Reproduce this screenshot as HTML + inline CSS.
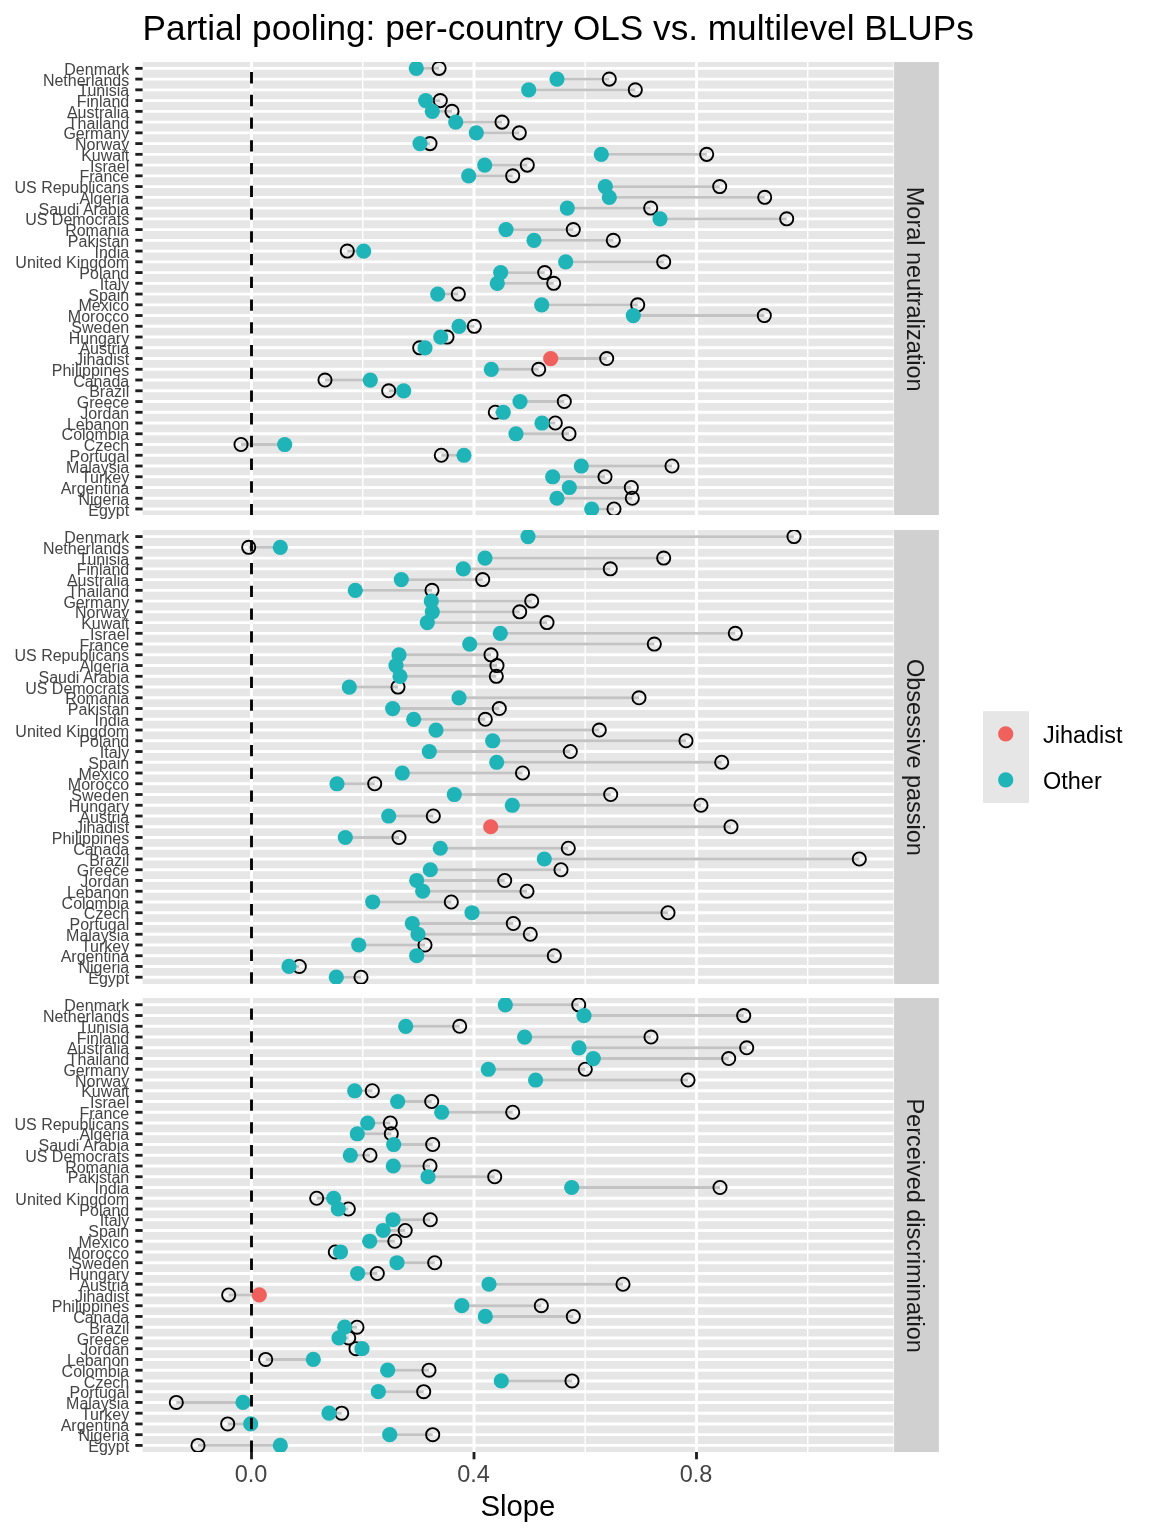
<!DOCTYPE html>
<html lang="en"><head><meta charset="utf-8"><title>Partial pooling</title>
<style>html,body{margin:0;padding:0;background:#fff}svg{display:block}text{font-family:"Liberation Sans",Arial,Helvetica,sans-serif}</style></head><body>
<svg width="1152" height="1536" viewBox="0 0 1152 1536">
<rect width="1152" height="1536" fill="#fff"/>
<text x="142.6" y="40.0" font-size="35.2" fill="#000">Partial pooling: per-country OLS vs. multilevel BLUPs</text>
<g>
<rect x="142.6" y="62" width="750.9" height="453" fill="#E6E6E6"/>
<line x1="362.7" x2="362.7" y1="62" y2="515" stroke="#fff" stroke-width="1.42"/>
<line x1="585.2" x2="585.2" y1="62" y2="515" stroke="#fff" stroke-width="1.42"/>
<line x1="807.7" x2="807.7" y1="62" y2="515" stroke="#fff" stroke-width="1.42"/>
<line x1="251.5" x2="251.5" y1="62" y2="515" stroke="#fff" stroke-width="2.85"/>
<line x1="474.0" x2="474.0" y1="62" y2="515" stroke="#fff" stroke-width="2.85"/>
<line x1="696.5" x2="696.5" y1="62" y2="515" stroke="#fff" stroke-width="2.85"/>
<line x1="142.6" x2="893.5" y1="68.35" y2="68.35" stroke="#fff" stroke-width="2.85"/>
<line x1="142.6" x2="893.5" y1="79.10" y2="79.10" stroke="#fff" stroke-width="2.85"/>
<line x1="142.6" x2="893.5" y1="89.84" y2="89.84" stroke="#fff" stroke-width="2.85"/>
<line x1="142.6" x2="893.5" y1="100.59" y2="100.59" stroke="#fff" stroke-width="2.85"/>
<line x1="142.6" x2="893.5" y1="111.34" y2="111.34" stroke="#fff" stroke-width="2.85"/>
<line x1="142.6" x2="893.5" y1="122.09" y2="122.09" stroke="#fff" stroke-width="2.85"/>
<line x1="142.6" x2="893.5" y1="132.83" y2="132.83" stroke="#fff" stroke-width="2.85"/>
<line x1="142.6" x2="893.5" y1="143.58" y2="143.58" stroke="#fff" stroke-width="2.85"/>
<line x1="142.6" x2="893.5" y1="154.33" y2="154.33" stroke="#fff" stroke-width="2.85"/>
<line x1="142.6" x2="893.5" y1="165.08" y2="165.08" stroke="#fff" stroke-width="2.85"/>
<line x1="142.6" x2="893.5" y1="175.82" y2="175.82" stroke="#fff" stroke-width="2.85"/>
<line x1="142.6" x2="893.5" y1="186.57" y2="186.57" stroke="#fff" stroke-width="2.85"/>
<line x1="142.6" x2="893.5" y1="197.32" y2="197.32" stroke="#fff" stroke-width="2.85"/>
<line x1="142.6" x2="893.5" y1="208.07" y2="208.07" stroke="#fff" stroke-width="2.85"/>
<line x1="142.6" x2="893.5" y1="218.82" y2="218.82" stroke="#fff" stroke-width="2.85"/>
<line x1="142.6" x2="893.5" y1="229.56" y2="229.56" stroke="#fff" stroke-width="2.85"/>
<line x1="142.6" x2="893.5" y1="240.31" y2="240.31" stroke="#fff" stroke-width="2.85"/>
<line x1="142.6" x2="893.5" y1="251.06" y2="251.06" stroke="#fff" stroke-width="2.85"/>
<line x1="142.6" x2="893.5" y1="261.81" y2="261.81" stroke="#fff" stroke-width="2.85"/>
<line x1="142.6" x2="893.5" y1="272.55" y2="272.55" stroke="#fff" stroke-width="2.85"/>
<line x1="142.6" x2="893.5" y1="283.30" y2="283.30" stroke="#fff" stroke-width="2.85"/>
<line x1="142.6" x2="893.5" y1="294.05" y2="294.05" stroke="#fff" stroke-width="2.85"/>
<line x1="142.6" x2="893.5" y1="304.80" y2="304.80" stroke="#fff" stroke-width="2.85"/>
<line x1="142.6" x2="893.5" y1="315.54" y2="315.54" stroke="#fff" stroke-width="2.85"/>
<line x1="142.6" x2="893.5" y1="326.29" y2="326.29" stroke="#fff" stroke-width="2.85"/>
<line x1="142.6" x2="893.5" y1="337.04" y2="337.04" stroke="#fff" stroke-width="2.85"/>
<line x1="142.6" x2="893.5" y1="347.79" y2="347.79" stroke="#fff" stroke-width="2.85"/>
<line x1="142.6" x2="893.5" y1="358.53" y2="358.53" stroke="#fff" stroke-width="2.85"/>
<line x1="142.6" x2="893.5" y1="369.28" y2="369.28" stroke="#fff" stroke-width="2.85"/>
<line x1="142.6" x2="893.5" y1="380.03" y2="380.03" stroke="#fff" stroke-width="2.85"/>
<line x1="142.6" x2="893.5" y1="390.78" y2="390.78" stroke="#fff" stroke-width="2.85"/>
<line x1="142.6" x2="893.5" y1="401.53" y2="401.53" stroke="#fff" stroke-width="2.85"/>
<line x1="142.6" x2="893.5" y1="412.27" y2="412.27" stroke="#fff" stroke-width="2.85"/>
<line x1="142.6" x2="893.5" y1="423.02" y2="423.02" stroke="#fff" stroke-width="2.85"/>
<line x1="142.6" x2="893.5" y1="433.77" y2="433.77" stroke="#fff" stroke-width="2.85"/>
<line x1="142.6" x2="893.5" y1="444.52" y2="444.52" stroke="#fff" stroke-width="2.85"/>
<line x1="142.6" x2="893.5" y1="455.26" y2="455.26" stroke="#fff" stroke-width="2.85"/>
<line x1="142.6" x2="893.5" y1="466.01" y2="466.01" stroke="#fff" stroke-width="2.85"/>
<line x1="142.6" x2="893.5" y1="476.76" y2="476.76" stroke="#fff" stroke-width="2.85"/>
<line x1="142.6" x2="893.5" y1="487.51" y2="487.51" stroke="#fff" stroke-width="2.85"/>
<line x1="142.6" x2="893.5" y1="498.25" y2="498.25" stroke="#fff" stroke-width="2.85"/>
<line x1="142.6" x2="893.5" y1="509.00" y2="509.00" stroke="#fff" stroke-width="2.85"/>
<clipPath id="cp0"><rect x="142.6" y="62" width="750.9" height="453"/></clipPath>
<g clip-path="url(#cp0)">
<line x1="416.3" x2="439.1" y1="68.35" y2="68.35" stroke="#C3C3C3" stroke-width="2.85"/>
<line x1="557" x2="609.3" y1="79.10" y2="79.10" stroke="#C3C3C3" stroke-width="2.85"/>
<line x1="528.7" x2="635.3" y1="89.84" y2="89.84" stroke="#C3C3C3" stroke-width="2.85"/>
<line x1="425.7" x2="440.3" y1="100.59" y2="100.59" stroke="#C3C3C3" stroke-width="2.85"/>
<line x1="432.3" x2="452" y1="111.34" y2="111.34" stroke="#C3C3C3" stroke-width="2.85"/>
<line x1="455.7" x2="502" y1="122.09" y2="122.09" stroke="#C3C3C3" stroke-width="2.85"/>
<line x1="476.3" x2="519.3" y1="132.83" y2="132.83" stroke="#C3C3C3" stroke-width="2.85"/>
<line x1="420" x2="430" y1="143.58" y2="143.58" stroke="#C3C3C3" stroke-width="2.85"/>
<line x1="601.3" x2="706.7" y1="154.33" y2="154.33" stroke="#C3C3C3" stroke-width="2.85"/>
<line x1="484.7" x2="527.3" y1="165.08" y2="165.08" stroke="#C3C3C3" stroke-width="2.85"/>
<line x1="468.7" x2="512.7" y1="175.82" y2="175.82" stroke="#C3C3C3" stroke-width="2.85"/>
<line x1="605.3" x2="719.7" y1="186.57" y2="186.57" stroke="#C3C3C3" stroke-width="2.85"/>
<line x1="609.3" x2="764.7" y1="197.32" y2="197.32" stroke="#C3C3C3" stroke-width="2.85"/>
<line x1="567.3" x2="650.7" y1="208.07" y2="208.07" stroke="#C3C3C3" stroke-width="2.85"/>
<line x1="660" x2="786.7" y1="218.82" y2="218.82" stroke="#C3C3C3" stroke-width="2.85"/>
<line x1="506" x2="573.3" y1="229.56" y2="229.56" stroke="#C3C3C3" stroke-width="2.85"/>
<line x1="534" x2="613.3" y1="240.31" y2="240.31" stroke="#C3C3C3" stroke-width="2.85"/>
<line x1="363.7" x2="347.3" y1="251.06" y2="251.06" stroke="#C3C3C3" stroke-width="2.85"/>
<line x1="565.7" x2="663.7" y1="261.81" y2="261.81" stroke="#C3C3C3" stroke-width="2.85"/>
<line x1="500.7" x2="544.7" y1="272.55" y2="272.55" stroke="#C3C3C3" stroke-width="2.85"/>
<line x1="497.3" x2="553.7" y1="283.30" y2="283.30" stroke="#C3C3C3" stroke-width="2.85"/>
<line x1="437.7" x2="458.3" y1="294.05" y2="294.05" stroke="#C3C3C3" stroke-width="2.85"/>
<line x1="541.7" x2="637.7" y1="304.80" y2="304.80" stroke="#C3C3C3" stroke-width="2.85"/>
<line x1="633.3" x2="764.3" y1="315.54" y2="315.54" stroke="#C3C3C3" stroke-width="2.85"/>
<line x1="459" x2="474.3" y1="326.29" y2="326.29" stroke="#C3C3C3" stroke-width="2.85"/>
<line x1="440.7" x2="447" y1="337.04" y2="337.04" stroke="#C3C3C3" stroke-width="2.85"/>
<line x1="425" x2="419.7" y1="347.79" y2="347.79" stroke="#C3C3C3" stroke-width="2.85"/>
<line x1="550.7" x2="606.7" y1="358.53" y2="358.53" stroke="#C3C3C3" stroke-width="2.85"/>
<line x1="491.3" x2="538.7" y1="369.28" y2="369.28" stroke="#C3C3C3" stroke-width="2.85"/>
<line x1="370.3" x2="325" y1="380.03" y2="380.03" stroke="#C3C3C3" stroke-width="2.85"/>
<line x1="403.7" x2="388.7" y1="390.78" y2="390.78" stroke="#C3C3C3" stroke-width="2.85"/>
<line x1="520" x2="564.3" y1="401.53" y2="401.53" stroke="#C3C3C3" stroke-width="2.85"/>
<line x1="503.3" x2="495.3" y1="412.27" y2="412.27" stroke="#C3C3C3" stroke-width="2.85"/>
<line x1="542" x2="555.3" y1="423.02" y2="423.02" stroke="#C3C3C3" stroke-width="2.85"/>
<line x1="516" x2="569" y1="433.77" y2="433.77" stroke="#C3C3C3" stroke-width="2.85"/>
<line x1="284.7" x2="241" y1="444.52" y2="444.52" stroke="#C3C3C3" stroke-width="2.85"/>
<line x1="464" x2="441.3" y1="455.26" y2="455.26" stroke="#C3C3C3" stroke-width="2.85"/>
<line x1="581.3" x2="672" y1="466.01" y2="466.01" stroke="#C3C3C3" stroke-width="2.85"/>
<line x1="552.7" x2="605" y1="476.76" y2="476.76" stroke="#C3C3C3" stroke-width="2.85"/>
<line x1="569.3" x2="631.3" y1="487.51" y2="487.51" stroke="#C3C3C3" stroke-width="2.85"/>
<line x1="557" x2="632.3" y1="498.25" y2="498.25" stroke="#C3C3C3" stroke-width="2.85"/>
<line x1="591.7" x2="614" y1="509.00" y2="509.00" stroke="#C3C3C3" stroke-width="2.85"/>
<circle cx="439.1" cy="68.35" r="6.6" fill="none" stroke="#000" stroke-width="1.9"/>
<circle cx="609.3" cy="79.10" r="6.6" fill="none" stroke="#000" stroke-width="1.9"/>
<circle cx="635.3" cy="89.84" r="6.6" fill="none" stroke="#000" stroke-width="1.9"/>
<circle cx="440.3" cy="100.59" r="6.6" fill="none" stroke="#000" stroke-width="1.9"/>
<circle cx="452" cy="111.34" r="6.6" fill="none" stroke="#000" stroke-width="1.9"/>
<circle cx="502" cy="122.09" r="6.6" fill="none" stroke="#000" stroke-width="1.9"/>
<circle cx="519.3" cy="132.83" r="6.6" fill="none" stroke="#000" stroke-width="1.9"/>
<circle cx="430" cy="143.58" r="6.6" fill="none" stroke="#000" stroke-width="1.9"/>
<circle cx="706.7" cy="154.33" r="6.6" fill="none" stroke="#000" stroke-width="1.9"/>
<circle cx="527.3" cy="165.08" r="6.6" fill="none" stroke="#000" stroke-width="1.9"/>
<circle cx="512.7" cy="175.82" r="6.6" fill="none" stroke="#000" stroke-width="1.9"/>
<circle cx="719.7" cy="186.57" r="6.6" fill="none" stroke="#000" stroke-width="1.9"/>
<circle cx="764.7" cy="197.32" r="6.6" fill="none" stroke="#000" stroke-width="1.9"/>
<circle cx="650.7" cy="208.07" r="6.6" fill="none" stroke="#000" stroke-width="1.9"/>
<circle cx="786.7" cy="218.82" r="6.6" fill="none" stroke="#000" stroke-width="1.9"/>
<circle cx="573.3" cy="229.56" r="6.6" fill="none" stroke="#000" stroke-width="1.9"/>
<circle cx="613.3" cy="240.31" r="6.6" fill="none" stroke="#000" stroke-width="1.9"/>
<circle cx="347.3" cy="251.06" r="6.6" fill="none" stroke="#000" stroke-width="1.9"/>
<circle cx="663.7" cy="261.81" r="6.6" fill="none" stroke="#000" stroke-width="1.9"/>
<circle cx="544.7" cy="272.55" r="6.6" fill="none" stroke="#000" stroke-width="1.9"/>
<circle cx="553.7" cy="283.30" r="6.6" fill="none" stroke="#000" stroke-width="1.9"/>
<circle cx="458.3" cy="294.05" r="6.6" fill="none" stroke="#000" stroke-width="1.9"/>
<circle cx="637.7" cy="304.80" r="6.6" fill="none" stroke="#000" stroke-width="1.9"/>
<circle cx="764.3" cy="315.54" r="6.6" fill="none" stroke="#000" stroke-width="1.9"/>
<circle cx="474.3" cy="326.29" r="6.6" fill="none" stroke="#000" stroke-width="1.9"/>
<circle cx="447" cy="337.04" r="6.6" fill="none" stroke="#000" stroke-width="1.9"/>
<circle cx="419.7" cy="347.79" r="6.6" fill="none" stroke="#000" stroke-width="1.9"/>
<circle cx="606.7" cy="358.53" r="6.6" fill="none" stroke="#000" stroke-width="1.9"/>
<circle cx="538.7" cy="369.28" r="6.6" fill="none" stroke="#000" stroke-width="1.9"/>
<circle cx="325" cy="380.03" r="6.6" fill="none" stroke="#000" stroke-width="1.9"/>
<circle cx="388.7" cy="390.78" r="6.6" fill="none" stroke="#000" stroke-width="1.9"/>
<circle cx="564.3" cy="401.53" r="6.6" fill="none" stroke="#000" stroke-width="1.9"/>
<circle cx="495.3" cy="412.27" r="6.6" fill="none" stroke="#000" stroke-width="1.9"/>
<circle cx="555.3" cy="423.02" r="6.6" fill="none" stroke="#000" stroke-width="1.9"/>
<circle cx="569" cy="433.77" r="6.6" fill="none" stroke="#000" stroke-width="1.9"/>
<circle cx="241" cy="444.52" r="6.6" fill="none" stroke="#000" stroke-width="1.9"/>
<circle cx="441.3" cy="455.26" r="6.6" fill="none" stroke="#000" stroke-width="1.9"/>
<circle cx="672" cy="466.01" r="6.6" fill="none" stroke="#000" stroke-width="1.9"/>
<circle cx="605" cy="476.76" r="6.6" fill="none" stroke="#000" stroke-width="1.9"/>
<circle cx="631.3" cy="487.51" r="6.6" fill="none" stroke="#000" stroke-width="1.9"/>
<circle cx="632.3" cy="498.25" r="6.6" fill="none" stroke="#000" stroke-width="1.9"/>
<circle cx="614" cy="509.00" r="6.6" fill="none" stroke="#000" stroke-width="1.9"/>
<circle cx="416.3" cy="68.35" r="7.6" fill="#1FB4B8"/>
<circle cx="557" cy="79.10" r="7.6" fill="#1FB4B8"/>
<circle cx="528.7" cy="89.84" r="7.6" fill="#1FB4B8"/>
<circle cx="425.7" cy="100.59" r="7.6" fill="#1FB4B8"/>
<circle cx="432.3" cy="111.34" r="7.6" fill="#1FB4B8"/>
<circle cx="455.7" cy="122.09" r="7.6" fill="#1FB4B8"/>
<circle cx="476.3" cy="132.83" r="7.6" fill="#1FB4B8"/>
<circle cx="420" cy="143.58" r="7.6" fill="#1FB4B8"/>
<circle cx="601.3" cy="154.33" r="7.6" fill="#1FB4B8"/>
<circle cx="484.7" cy="165.08" r="7.6" fill="#1FB4B8"/>
<circle cx="468.7" cy="175.82" r="7.6" fill="#1FB4B8"/>
<circle cx="605.3" cy="186.57" r="7.6" fill="#1FB4B8"/>
<circle cx="609.3" cy="197.32" r="7.6" fill="#1FB4B8"/>
<circle cx="567.3" cy="208.07" r="7.6" fill="#1FB4B8"/>
<circle cx="660" cy="218.82" r="7.6" fill="#1FB4B8"/>
<circle cx="506" cy="229.56" r="7.6" fill="#1FB4B8"/>
<circle cx="534" cy="240.31" r="7.6" fill="#1FB4B8"/>
<circle cx="363.7" cy="251.06" r="7.6" fill="#1FB4B8"/>
<circle cx="565.7" cy="261.81" r="7.6" fill="#1FB4B8"/>
<circle cx="500.7" cy="272.55" r="7.6" fill="#1FB4B8"/>
<circle cx="497.3" cy="283.30" r="7.6" fill="#1FB4B8"/>
<circle cx="437.7" cy="294.05" r="7.6" fill="#1FB4B8"/>
<circle cx="541.7" cy="304.80" r="7.6" fill="#1FB4B8"/>
<circle cx="633.3" cy="315.54" r="7.6" fill="#1FB4B8"/>
<circle cx="459" cy="326.29" r="7.6" fill="#1FB4B8"/>
<circle cx="440.7" cy="337.04" r="7.6" fill="#1FB4B8"/>
<circle cx="425" cy="347.79" r="7.6" fill="#1FB4B8"/>
<circle cx="550.7" cy="358.53" r="7.6" fill="#F0605D"/>
<circle cx="491.3" cy="369.28" r="7.6" fill="#1FB4B8"/>
<circle cx="370.3" cy="380.03" r="7.6" fill="#1FB4B8"/>
<circle cx="403.7" cy="390.78" r="7.6" fill="#1FB4B8"/>
<circle cx="520" cy="401.53" r="7.6" fill="#1FB4B8"/>
<circle cx="503.3" cy="412.27" r="7.6" fill="#1FB4B8"/>
<circle cx="542" cy="423.02" r="7.6" fill="#1FB4B8"/>
<circle cx="516" cy="433.77" r="7.6" fill="#1FB4B8"/>
<circle cx="284.7" cy="444.52" r="7.6" fill="#1FB4B8"/>
<circle cx="464" cy="455.26" r="7.6" fill="#1FB4B8"/>
<circle cx="581.3" cy="466.01" r="7.6" fill="#1FB4B8"/>
<circle cx="552.7" cy="476.76" r="7.6" fill="#1FB4B8"/>
<circle cx="569.3" cy="487.51" r="7.6" fill="#1FB4B8"/>
<circle cx="557" cy="498.25" r="7.6" fill="#1FB4B8"/>
<circle cx="591.7" cy="509.00" r="7.6" fill="#1FB4B8"/>
<line x1="251.5" x2="251.5" y1="515" y2="62" stroke="#000" stroke-width="2.85" stroke-dasharray="11.37 11.37" stroke-dashoffset="0.45"/>
</g>
<line x1="135.3" x2="142.6" y1="68.35" y2="68.35" stroke="#1f1f1f" stroke-width="2.85"/>
<text x="129.2" y="74.95" font-size="16" fill="#444444" text-anchor="end">Denmark</text>
<line x1="135.3" x2="142.6" y1="79.10" y2="79.10" stroke="#1f1f1f" stroke-width="2.85"/>
<text x="129.2" y="85.70" font-size="16" fill="#444444" text-anchor="end">Netherlands</text>
<line x1="135.3" x2="142.6" y1="89.84" y2="89.84" stroke="#1f1f1f" stroke-width="2.85"/>
<text x="129.2" y="96.44" font-size="16" fill="#444444" text-anchor="end">Tunisia</text>
<line x1="135.3" x2="142.6" y1="100.59" y2="100.59" stroke="#1f1f1f" stroke-width="2.85"/>
<text x="129.2" y="107.19" font-size="16" fill="#444444" text-anchor="end">Finland</text>
<line x1="135.3" x2="142.6" y1="111.34" y2="111.34" stroke="#1f1f1f" stroke-width="2.85"/>
<text x="129.2" y="117.94" font-size="16" fill="#444444" text-anchor="end">Australia</text>
<line x1="135.3" x2="142.6" y1="122.09" y2="122.09" stroke="#1f1f1f" stroke-width="2.85"/>
<text x="129.2" y="128.69" font-size="16" fill="#444444" text-anchor="end">Thailand</text>
<line x1="135.3" x2="142.6" y1="132.83" y2="132.83" stroke="#1f1f1f" stroke-width="2.85"/>
<text x="129.2" y="139.43" font-size="16" fill="#444444" text-anchor="end">Germany</text>
<line x1="135.3" x2="142.6" y1="143.58" y2="143.58" stroke="#1f1f1f" stroke-width="2.85"/>
<text x="129.2" y="150.18" font-size="16" fill="#444444" text-anchor="end">Norway</text>
<line x1="135.3" x2="142.6" y1="154.33" y2="154.33" stroke="#1f1f1f" stroke-width="2.85"/>
<text x="129.2" y="160.93" font-size="16" fill="#444444" text-anchor="end">Kuwait</text>
<line x1="135.3" x2="142.6" y1="165.08" y2="165.08" stroke="#1f1f1f" stroke-width="2.85"/>
<text x="129.2" y="171.68" font-size="16" fill="#444444" text-anchor="end">Israel</text>
<line x1="135.3" x2="142.6" y1="175.82" y2="175.82" stroke="#1f1f1f" stroke-width="2.85"/>
<text x="129.2" y="182.42" font-size="16" fill="#444444" text-anchor="end">France</text>
<line x1="135.3" x2="142.6" y1="186.57" y2="186.57" stroke="#1f1f1f" stroke-width="2.85"/>
<text x="129.2" y="193.17" font-size="16" fill="#444444" text-anchor="end">US Republicans</text>
<line x1="135.3" x2="142.6" y1="197.32" y2="197.32" stroke="#1f1f1f" stroke-width="2.85"/>
<text x="129.2" y="203.92" font-size="16" fill="#444444" text-anchor="end">Algeria</text>
<line x1="135.3" x2="142.6" y1="208.07" y2="208.07" stroke="#1f1f1f" stroke-width="2.85"/>
<text x="129.2" y="214.67" font-size="16" fill="#444444" text-anchor="end">Saudi Arabia</text>
<line x1="135.3" x2="142.6" y1="218.82" y2="218.82" stroke="#1f1f1f" stroke-width="2.85"/>
<text x="129.2" y="225.42" font-size="16" fill="#444444" text-anchor="end">US Democrats</text>
<line x1="135.3" x2="142.6" y1="229.56" y2="229.56" stroke="#1f1f1f" stroke-width="2.85"/>
<text x="129.2" y="236.16" font-size="16" fill="#444444" text-anchor="end">Romania</text>
<line x1="135.3" x2="142.6" y1="240.31" y2="240.31" stroke="#1f1f1f" stroke-width="2.85"/>
<text x="129.2" y="246.91" font-size="16" fill="#444444" text-anchor="end">Pakistan</text>
<line x1="135.3" x2="142.6" y1="251.06" y2="251.06" stroke="#1f1f1f" stroke-width="2.85"/>
<text x="129.2" y="257.66" font-size="16" fill="#444444" text-anchor="end">India</text>
<line x1="135.3" x2="142.6" y1="261.81" y2="261.81" stroke="#1f1f1f" stroke-width="2.85"/>
<text x="129.2" y="268.41" font-size="16" fill="#444444" text-anchor="end">United Kingdom</text>
<line x1="135.3" x2="142.6" y1="272.55" y2="272.55" stroke="#1f1f1f" stroke-width="2.85"/>
<text x="129.2" y="279.15" font-size="16" fill="#444444" text-anchor="end">Poland</text>
<line x1="135.3" x2="142.6" y1="283.30" y2="283.30" stroke="#1f1f1f" stroke-width="2.85"/>
<text x="129.2" y="289.90" font-size="16" fill="#444444" text-anchor="end">Italy</text>
<line x1="135.3" x2="142.6" y1="294.05" y2="294.05" stroke="#1f1f1f" stroke-width="2.85"/>
<text x="129.2" y="300.65" font-size="16" fill="#444444" text-anchor="end">Spain</text>
<line x1="135.3" x2="142.6" y1="304.80" y2="304.80" stroke="#1f1f1f" stroke-width="2.85"/>
<text x="129.2" y="311.40" font-size="16" fill="#444444" text-anchor="end">Mexico</text>
<line x1="135.3" x2="142.6" y1="315.54" y2="315.54" stroke="#1f1f1f" stroke-width="2.85"/>
<text x="129.2" y="322.14" font-size="16" fill="#444444" text-anchor="end">Morocco</text>
<line x1="135.3" x2="142.6" y1="326.29" y2="326.29" stroke="#1f1f1f" stroke-width="2.85"/>
<text x="129.2" y="332.89" font-size="16" fill="#444444" text-anchor="end">Sweden</text>
<line x1="135.3" x2="142.6" y1="337.04" y2="337.04" stroke="#1f1f1f" stroke-width="2.85"/>
<text x="129.2" y="343.64" font-size="16" fill="#444444" text-anchor="end">Hungary</text>
<line x1="135.3" x2="142.6" y1="347.79" y2="347.79" stroke="#1f1f1f" stroke-width="2.85"/>
<text x="129.2" y="354.39" font-size="16" fill="#444444" text-anchor="end">Austria</text>
<line x1="135.3" x2="142.6" y1="358.53" y2="358.53" stroke="#1f1f1f" stroke-width="2.85"/>
<text x="129.2" y="365.13" font-size="16" fill="#444444" text-anchor="end">Jihadist</text>
<line x1="135.3" x2="142.6" y1="369.28" y2="369.28" stroke="#1f1f1f" stroke-width="2.85"/>
<text x="129.2" y="375.88" font-size="16" fill="#444444" text-anchor="end">Philippines</text>
<line x1="135.3" x2="142.6" y1="380.03" y2="380.03" stroke="#1f1f1f" stroke-width="2.85"/>
<text x="129.2" y="386.63" font-size="16" fill="#444444" text-anchor="end">Canada</text>
<line x1="135.3" x2="142.6" y1="390.78" y2="390.78" stroke="#1f1f1f" stroke-width="2.85"/>
<text x="129.2" y="397.38" font-size="16" fill="#444444" text-anchor="end">Brazil</text>
<line x1="135.3" x2="142.6" y1="401.53" y2="401.53" stroke="#1f1f1f" stroke-width="2.85"/>
<text x="129.2" y="408.13" font-size="16" fill="#444444" text-anchor="end">Greece</text>
<line x1="135.3" x2="142.6" y1="412.27" y2="412.27" stroke="#1f1f1f" stroke-width="2.85"/>
<text x="129.2" y="418.87" font-size="16" fill="#444444" text-anchor="end">Jordan</text>
<line x1="135.3" x2="142.6" y1="423.02" y2="423.02" stroke="#1f1f1f" stroke-width="2.85"/>
<text x="129.2" y="429.62" font-size="16" fill="#444444" text-anchor="end">Lebanon</text>
<line x1="135.3" x2="142.6" y1="433.77" y2="433.77" stroke="#1f1f1f" stroke-width="2.85"/>
<text x="129.2" y="440.37" font-size="16" fill="#444444" text-anchor="end">Colombia</text>
<line x1="135.3" x2="142.6" y1="444.52" y2="444.52" stroke="#1f1f1f" stroke-width="2.85"/>
<text x="129.2" y="451.12" font-size="16" fill="#444444" text-anchor="end">Czech</text>
<line x1="135.3" x2="142.6" y1="455.26" y2="455.26" stroke="#1f1f1f" stroke-width="2.85"/>
<text x="129.2" y="461.86" font-size="16" fill="#444444" text-anchor="end">Portugal</text>
<line x1="135.3" x2="142.6" y1="466.01" y2="466.01" stroke="#1f1f1f" stroke-width="2.85"/>
<text x="129.2" y="472.61" font-size="16" fill="#444444" text-anchor="end">Malaysia</text>
<line x1="135.3" x2="142.6" y1="476.76" y2="476.76" stroke="#1f1f1f" stroke-width="2.85"/>
<text x="129.2" y="483.36" font-size="16" fill="#444444" text-anchor="end">Turkey</text>
<line x1="135.3" x2="142.6" y1="487.51" y2="487.51" stroke="#1f1f1f" stroke-width="2.85"/>
<text x="129.2" y="494.11" font-size="16" fill="#444444" text-anchor="end">Argentina</text>
<line x1="135.3" x2="142.6" y1="498.25" y2="498.25" stroke="#1f1f1f" stroke-width="2.85"/>
<text x="129.2" y="504.85" font-size="16" fill="#444444" text-anchor="end">Nigeria</text>
<line x1="135.3" x2="142.6" y1="509.00" y2="509.00" stroke="#1f1f1f" stroke-width="2.85"/>
<text x="129.2" y="515.60" font-size="16" fill="#444444" text-anchor="end">Egypt</text>
<rect x="894.1" y="62" width="44.8" height="453" fill="#D0D0D0"/>
<text transform="translate(907.0 289.2) rotate(90)" font-size="23.47" fill="#1a1a1a" text-anchor="middle">Moral neutralization</text>
</g>
<g>
<rect x="142.6" y="530" width="750.9" height="454" fill="#E6E6E6"/>
<line x1="362.7" x2="362.7" y1="530" y2="984" stroke="#fff" stroke-width="1.42"/>
<line x1="585.2" x2="585.2" y1="530" y2="984" stroke="#fff" stroke-width="1.42"/>
<line x1="807.7" x2="807.7" y1="530" y2="984" stroke="#fff" stroke-width="1.42"/>
<line x1="251.5" x2="251.5" y1="530" y2="984" stroke="#fff" stroke-width="2.85"/>
<line x1="474.0" x2="474.0" y1="530" y2="984" stroke="#fff" stroke-width="2.85"/>
<line x1="696.5" x2="696.5" y1="530" y2="984" stroke="#fff" stroke-width="2.85"/>
<line x1="142.6" x2="893.5" y1="536.57" y2="536.57" stroke="#fff" stroke-width="2.85"/>
<line x1="142.6" x2="893.5" y1="547.32" y2="547.32" stroke="#fff" stroke-width="2.85"/>
<line x1="142.6" x2="893.5" y1="558.06" y2="558.06" stroke="#fff" stroke-width="2.85"/>
<line x1="142.6" x2="893.5" y1="568.81" y2="568.81" stroke="#fff" stroke-width="2.85"/>
<line x1="142.6" x2="893.5" y1="579.56" y2="579.56" stroke="#fff" stroke-width="2.85"/>
<line x1="142.6" x2="893.5" y1="590.31" y2="590.31" stroke="#fff" stroke-width="2.85"/>
<line x1="142.6" x2="893.5" y1="601.05" y2="601.05" stroke="#fff" stroke-width="2.85"/>
<line x1="142.6" x2="893.5" y1="611.80" y2="611.80" stroke="#fff" stroke-width="2.85"/>
<line x1="142.6" x2="893.5" y1="622.55" y2="622.55" stroke="#fff" stroke-width="2.85"/>
<line x1="142.6" x2="893.5" y1="633.30" y2="633.30" stroke="#fff" stroke-width="2.85"/>
<line x1="142.6" x2="893.5" y1="644.04" y2="644.04" stroke="#fff" stroke-width="2.85"/>
<line x1="142.6" x2="893.5" y1="654.79" y2="654.79" stroke="#fff" stroke-width="2.85"/>
<line x1="142.6" x2="893.5" y1="665.54" y2="665.54" stroke="#fff" stroke-width="2.85"/>
<line x1="142.6" x2="893.5" y1="676.29" y2="676.29" stroke="#fff" stroke-width="2.85"/>
<line x1="142.6" x2="893.5" y1="687.04" y2="687.04" stroke="#fff" stroke-width="2.85"/>
<line x1="142.6" x2="893.5" y1="697.78" y2="697.78" stroke="#fff" stroke-width="2.85"/>
<line x1="142.6" x2="893.5" y1="708.53" y2="708.53" stroke="#fff" stroke-width="2.85"/>
<line x1="142.6" x2="893.5" y1="719.28" y2="719.28" stroke="#fff" stroke-width="2.85"/>
<line x1="142.6" x2="893.5" y1="730.03" y2="730.03" stroke="#fff" stroke-width="2.85"/>
<line x1="142.6" x2="893.5" y1="740.77" y2="740.77" stroke="#fff" stroke-width="2.85"/>
<line x1="142.6" x2="893.5" y1="751.52" y2="751.52" stroke="#fff" stroke-width="2.85"/>
<line x1="142.6" x2="893.5" y1="762.27" y2="762.27" stroke="#fff" stroke-width="2.85"/>
<line x1="142.6" x2="893.5" y1="773.02" y2="773.02" stroke="#fff" stroke-width="2.85"/>
<line x1="142.6" x2="893.5" y1="783.76" y2="783.76" stroke="#fff" stroke-width="2.85"/>
<line x1="142.6" x2="893.5" y1="794.51" y2="794.51" stroke="#fff" stroke-width="2.85"/>
<line x1="142.6" x2="893.5" y1="805.26" y2="805.26" stroke="#fff" stroke-width="2.85"/>
<line x1="142.6" x2="893.5" y1="816.01" y2="816.01" stroke="#fff" stroke-width="2.85"/>
<line x1="142.6" x2="893.5" y1="826.75" y2="826.75" stroke="#fff" stroke-width="2.85"/>
<line x1="142.6" x2="893.5" y1="837.50" y2="837.50" stroke="#fff" stroke-width="2.85"/>
<line x1="142.6" x2="893.5" y1="848.25" y2="848.25" stroke="#fff" stroke-width="2.85"/>
<line x1="142.6" x2="893.5" y1="859.00" y2="859.00" stroke="#fff" stroke-width="2.85"/>
<line x1="142.6" x2="893.5" y1="869.75" y2="869.75" stroke="#fff" stroke-width="2.85"/>
<line x1="142.6" x2="893.5" y1="880.49" y2="880.49" stroke="#fff" stroke-width="2.85"/>
<line x1="142.6" x2="893.5" y1="891.24" y2="891.24" stroke="#fff" stroke-width="2.85"/>
<line x1="142.6" x2="893.5" y1="901.99" y2="901.99" stroke="#fff" stroke-width="2.85"/>
<line x1="142.6" x2="893.5" y1="912.74" y2="912.74" stroke="#fff" stroke-width="2.85"/>
<line x1="142.6" x2="893.5" y1="923.48" y2="923.48" stroke="#fff" stroke-width="2.85"/>
<line x1="142.6" x2="893.5" y1="934.23" y2="934.23" stroke="#fff" stroke-width="2.85"/>
<line x1="142.6" x2="893.5" y1="944.98" y2="944.98" stroke="#fff" stroke-width="2.85"/>
<line x1="142.6" x2="893.5" y1="955.73" y2="955.73" stroke="#fff" stroke-width="2.85"/>
<line x1="142.6" x2="893.5" y1="966.47" y2="966.47" stroke="#fff" stroke-width="2.85"/>
<line x1="142.6" x2="893.5" y1="977.22" y2="977.22" stroke="#fff" stroke-width="2.85"/>
<clipPath id="cp1"><rect x="142.6" y="530" width="750.9" height="454"/></clipPath>
<g clip-path="url(#cp1)">
<line x1="528" x2="794" y1="536.57" y2="536.57" stroke="#C3C3C3" stroke-width="2.85"/>
<line x1="280.3" x2="248.7" y1="547.32" y2="547.32" stroke="#C3C3C3" stroke-width="2.85"/>
<line x1="485" x2="663.7" y1="558.06" y2="558.06" stroke="#C3C3C3" stroke-width="2.85"/>
<line x1="463.3" x2="610.3" y1="568.81" y2="568.81" stroke="#C3C3C3" stroke-width="2.85"/>
<line x1="401.3" x2="482.7" y1="579.56" y2="579.56" stroke="#C3C3C3" stroke-width="2.85"/>
<line x1="355.3" x2="432" y1="590.31" y2="590.31" stroke="#C3C3C3" stroke-width="2.85"/>
<line x1="431.3" x2="531.7" y1="601.05" y2="601.05" stroke="#C3C3C3" stroke-width="2.85"/>
<line x1="432.3" x2="519.7" y1="611.80" y2="611.80" stroke="#C3C3C3" stroke-width="2.85"/>
<line x1="427.3" x2="547" y1="622.55" y2="622.55" stroke="#C3C3C3" stroke-width="2.85"/>
<line x1="500.3" x2="735.3" y1="633.30" y2="633.30" stroke="#C3C3C3" stroke-width="2.85"/>
<line x1="469.7" x2="654.3" y1="644.04" y2="644.04" stroke="#C3C3C3" stroke-width="2.85"/>
<line x1="399" x2="491" y1="654.79" y2="654.79" stroke="#C3C3C3" stroke-width="2.85"/>
<line x1="396" x2="497" y1="665.54" y2="665.54" stroke="#C3C3C3" stroke-width="2.85"/>
<line x1="400" x2="496.3" y1="676.29" y2="676.29" stroke="#C3C3C3" stroke-width="2.85"/>
<line x1="349.3" x2="398" y1="687.04" y2="687.04" stroke="#C3C3C3" stroke-width="2.85"/>
<line x1="459" x2="639" y1="697.78" y2="697.78" stroke="#C3C3C3" stroke-width="2.85"/>
<line x1="392.7" x2="499.3" y1="708.53" y2="708.53" stroke="#C3C3C3" stroke-width="2.85"/>
<line x1="413.7" x2="485.3" y1="719.28" y2="719.28" stroke="#C3C3C3" stroke-width="2.85"/>
<line x1="436" x2="599.3" y1="730.03" y2="730.03" stroke="#C3C3C3" stroke-width="2.85"/>
<line x1="492.7" x2="686" y1="740.77" y2="740.77" stroke="#C3C3C3" stroke-width="2.85"/>
<line x1="429.3" x2="570.3" y1="751.52" y2="751.52" stroke="#C3C3C3" stroke-width="2.85"/>
<line x1="496.7" x2="721.7" y1="762.27" y2="762.27" stroke="#C3C3C3" stroke-width="2.85"/>
<line x1="402.3" x2="522.5" y1="773.02" y2="773.02" stroke="#C3C3C3" stroke-width="2.85"/>
<line x1="337" x2="374.7" y1="783.76" y2="783.76" stroke="#C3C3C3" stroke-width="2.85"/>
<line x1="454.3" x2="610.7" y1="794.51" y2="794.51" stroke="#C3C3C3" stroke-width="2.85"/>
<line x1="512.3" x2="701" y1="805.26" y2="805.26" stroke="#C3C3C3" stroke-width="2.85"/>
<line x1="388.7" x2="433.3" y1="816.01" y2="816.01" stroke="#C3C3C3" stroke-width="2.85"/>
<line x1="490.7" x2="731" y1="826.75" y2="826.75" stroke="#C3C3C3" stroke-width="2.85"/>
<line x1="345.3" x2="399" y1="837.50" y2="837.50" stroke="#C3C3C3" stroke-width="2.85"/>
<line x1="440.3" x2="568.3" y1="848.25" y2="848.25" stroke="#C3C3C3" stroke-width="2.85"/>
<line x1="544.3" x2="859.3" y1="859.00" y2="859.00" stroke="#C3C3C3" stroke-width="2.85"/>
<line x1="430.3" x2="561" y1="869.75" y2="869.75" stroke="#C3C3C3" stroke-width="2.85"/>
<line x1="416.7" x2="504.7" y1="880.49" y2="880.49" stroke="#C3C3C3" stroke-width="2.85"/>
<line x1="422.7" x2="527" y1="891.24" y2="891.24" stroke="#C3C3C3" stroke-width="2.85"/>
<line x1="372.7" x2="451.3" y1="901.99" y2="901.99" stroke="#C3C3C3" stroke-width="2.85"/>
<line x1="472" x2="668" y1="912.74" y2="912.74" stroke="#C3C3C3" stroke-width="2.85"/>
<line x1="412.3" x2="513.3" y1="923.48" y2="923.48" stroke="#C3C3C3" stroke-width="2.85"/>
<line x1="418" x2="530.3" y1="934.23" y2="934.23" stroke="#C3C3C3" stroke-width="2.85"/>
<line x1="358.7" x2="425" y1="944.98" y2="944.98" stroke="#C3C3C3" stroke-width="2.85"/>
<line x1="416.7" x2="554.3" y1="955.73" y2="955.73" stroke="#C3C3C3" stroke-width="2.85"/>
<line x1="289" x2="299.3" y1="966.47" y2="966.47" stroke="#C3C3C3" stroke-width="2.85"/>
<line x1="336.3" x2="361" y1="977.22" y2="977.22" stroke="#C3C3C3" stroke-width="2.85"/>
<circle cx="794" cy="536.57" r="6.6" fill="none" stroke="#000" stroke-width="1.9"/>
<circle cx="248.7" cy="547.32" r="6.6" fill="none" stroke="#000" stroke-width="1.9"/>
<circle cx="663.7" cy="558.06" r="6.6" fill="none" stroke="#000" stroke-width="1.9"/>
<circle cx="610.3" cy="568.81" r="6.6" fill="none" stroke="#000" stroke-width="1.9"/>
<circle cx="482.7" cy="579.56" r="6.6" fill="none" stroke="#000" stroke-width="1.9"/>
<circle cx="432" cy="590.31" r="6.6" fill="none" stroke="#000" stroke-width="1.9"/>
<circle cx="531.7" cy="601.05" r="6.6" fill="none" stroke="#000" stroke-width="1.9"/>
<circle cx="519.7" cy="611.80" r="6.6" fill="none" stroke="#000" stroke-width="1.9"/>
<circle cx="547" cy="622.55" r="6.6" fill="none" stroke="#000" stroke-width="1.9"/>
<circle cx="735.3" cy="633.30" r="6.6" fill="none" stroke="#000" stroke-width="1.9"/>
<circle cx="654.3" cy="644.04" r="6.6" fill="none" stroke="#000" stroke-width="1.9"/>
<circle cx="491" cy="654.79" r="6.6" fill="none" stroke="#000" stroke-width="1.9"/>
<circle cx="497" cy="665.54" r="6.6" fill="none" stroke="#000" stroke-width="1.9"/>
<circle cx="496.3" cy="676.29" r="6.6" fill="none" stroke="#000" stroke-width="1.9"/>
<circle cx="398" cy="687.04" r="6.6" fill="none" stroke="#000" stroke-width="1.9"/>
<circle cx="639" cy="697.78" r="6.6" fill="none" stroke="#000" stroke-width="1.9"/>
<circle cx="499.3" cy="708.53" r="6.6" fill="none" stroke="#000" stroke-width="1.9"/>
<circle cx="485.3" cy="719.28" r="6.6" fill="none" stroke="#000" stroke-width="1.9"/>
<circle cx="599.3" cy="730.03" r="6.6" fill="none" stroke="#000" stroke-width="1.9"/>
<circle cx="686" cy="740.77" r="6.6" fill="none" stroke="#000" stroke-width="1.9"/>
<circle cx="570.3" cy="751.52" r="6.6" fill="none" stroke="#000" stroke-width="1.9"/>
<circle cx="721.7" cy="762.27" r="6.6" fill="none" stroke="#000" stroke-width="1.9"/>
<circle cx="522.5" cy="773.02" r="6.6" fill="none" stroke="#000" stroke-width="1.9"/>
<circle cx="374.7" cy="783.76" r="6.6" fill="none" stroke="#000" stroke-width="1.9"/>
<circle cx="610.7" cy="794.51" r="6.6" fill="none" stroke="#000" stroke-width="1.9"/>
<circle cx="701" cy="805.26" r="6.6" fill="none" stroke="#000" stroke-width="1.9"/>
<circle cx="433.3" cy="816.01" r="6.6" fill="none" stroke="#000" stroke-width="1.9"/>
<circle cx="731" cy="826.75" r="6.6" fill="none" stroke="#000" stroke-width="1.9"/>
<circle cx="399" cy="837.50" r="6.6" fill="none" stroke="#000" stroke-width="1.9"/>
<circle cx="568.3" cy="848.25" r="6.6" fill="none" stroke="#000" stroke-width="1.9"/>
<circle cx="859.3" cy="859.00" r="6.6" fill="none" stroke="#000" stroke-width="1.9"/>
<circle cx="561" cy="869.75" r="6.6" fill="none" stroke="#000" stroke-width="1.9"/>
<circle cx="504.7" cy="880.49" r="6.6" fill="none" stroke="#000" stroke-width="1.9"/>
<circle cx="527" cy="891.24" r="6.6" fill="none" stroke="#000" stroke-width="1.9"/>
<circle cx="451.3" cy="901.99" r="6.6" fill="none" stroke="#000" stroke-width="1.9"/>
<circle cx="668" cy="912.74" r="6.6" fill="none" stroke="#000" stroke-width="1.9"/>
<circle cx="513.3" cy="923.48" r="6.6" fill="none" stroke="#000" stroke-width="1.9"/>
<circle cx="530.3" cy="934.23" r="6.6" fill="none" stroke="#000" stroke-width="1.9"/>
<circle cx="425" cy="944.98" r="6.6" fill="none" stroke="#000" stroke-width="1.9"/>
<circle cx="554.3" cy="955.73" r="6.6" fill="none" stroke="#000" stroke-width="1.9"/>
<circle cx="299.3" cy="966.47" r="6.6" fill="none" stroke="#000" stroke-width="1.9"/>
<circle cx="361" cy="977.22" r="6.6" fill="none" stroke="#000" stroke-width="1.9"/>
<circle cx="528" cy="536.57" r="7.6" fill="#1FB4B8"/>
<circle cx="280.3" cy="547.32" r="7.6" fill="#1FB4B8"/>
<circle cx="485" cy="558.06" r="7.6" fill="#1FB4B8"/>
<circle cx="463.3" cy="568.81" r="7.6" fill="#1FB4B8"/>
<circle cx="401.3" cy="579.56" r="7.6" fill="#1FB4B8"/>
<circle cx="355.3" cy="590.31" r="7.6" fill="#1FB4B8"/>
<circle cx="431.3" cy="601.05" r="7.6" fill="#1FB4B8"/>
<circle cx="432.3" cy="611.80" r="7.6" fill="#1FB4B8"/>
<circle cx="427.3" cy="622.55" r="7.6" fill="#1FB4B8"/>
<circle cx="500.3" cy="633.30" r="7.6" fill="#1FB4B8"/>
<circle cx="469.7" cy="644.04" r="7.6" fill="#1FB4B8"/>
<circle cx="399" cy="654.79" r="7.6" fill="#1FB4B8"/>
<circle cx="396" cy="665.54" r="7.6" fill="#1FB4B8"/>
<circle cx="400" cy="676.29" r="7.6" fill="#1FB4B8"/>
<circle cx="349.3" cy="687.04" r="7.6" fill="#1FB4B8"/>
<circle cx="459" cy="697.78" r="7.6" fill="#1FB4B8"/>
<circle cx="392.7" cy="708.53" r="7.6" fill="#1FB4B8"/>
<circle cx="413.7" cy="719.28" r="7.6" fill="#1FB4B8"/>
<circle cx="436" cy="730.03" r="7.6" fill="#1FB4B8"/>
<circle cx="492.7" cy="740.77" r="7.6" fill="#1FB4B8"/>
<circle cx="429.3" cy="751.52" r="7.6" fill="#1FB4B8"/>
<circle cx="496.7" cy="762.27" r="7.6" fill="#1FB4B8"/>
<circle cx="402.3" cy="773.02" r="7.6" fill="#1FB4B8"/>
<circle cx="337" cy="783.76" r="7.6" fill="#1FB4B8"/>
<circle cx="454.3" cy="794.51" r="7.6" fill="#1FB4B8"/>
<circle cx="512.3" cy="805.26" r="7.6" fill="#1FB4B8"/>
<circle cx="388.7" cy="816.01" r="7.6" fill="#1FB4B8"/>
<circle cx="490.7" cy="826.75" r="7.6" fill="#F0605D"/>
<circle cx="345.3" cy="837.50" r="7.6" fill="#1FB4B8"/>
<circle cx="440.3" cy="848.25" r="7.6" fill="#1FB4B8"/>
<circle cx="544.3" cy="859.00" r="7.6" fill="#1FB4B8"/>
<circle cx="430.3" cy="869.75" r="7.6" fill="#1FB4B8"/>
<circle cx="416.7" cy="880.49" r="7.6" fill="#1FB4B8"/>
<circle cx="422.7" cy="891.24" r="7.6" fill="#1FB4B8"/>
<circle cx="372.7" cy="901.99" r="7.6" fill="#1FB4B8"/>
<circle cx="472" cy="912.74" r="7.6" fill="#1FB4B8"/>
<circle cx="412.3" cy="923.48" r="7.6" fill="#1FB4B8"/>
<circle cx="418" cy="934.23" r="7.6" fill="#1FB4B8"/>
<circle cx="358.7" cy="944.98" r="7.6" fill="#1FB4B8"/>
<circle cx="416.7" cy="955.73" r="7.6" fill="#1FB4B8"/>
<circle cx="289" cy="966.47" r="7.6" fill="#1FB4B8"/>
<circle cx="336.3" cy="977.22" r="7.6" fill="#1FB4B8"/>
<line x1="251.5" x2="251.5" y1="984" y2="530" stroke="#000" stroke-width="2.85" stroke-dasharray="11.37 11.37" stroke-dashoffset="-0.33"/>
</g>
<line x1="135.3" x2="142.6" y1="536.57" y2="536.57" stroke="#1f1f1f" stroke-width="2.85"/>
<text x="129.2" y="543.17" font-size="16" fill="#444444" text-anchor="end">Denmark</text>
<line x1="135.3" x2="142.6" y1="547.32" y2="547.32" stroke="#1f1f1f" stroke-width="2.85"/>
<text x="129.2" y="553.92" font-size="16" fill="#444444" text-anchor="end">Netherlands</text>
<line x1="135.3" x2="142.6" y1="558.06" y2="558.06" stroke="#1f1f1f" stroke-width="2.85"/>
<text x="129.2" y="564.66" font-size="16" fill="#444444" text-anchor="end">Tunisia</text>
<line x1="135.3" x2="142.6" y1="568.81" y2="568.81" stroke="#1f1f1f" stroke-width="2.85"/>
<text x="129.2" y="575.41" font-size="16" fill="#444444" text-anchor="end">Finland</text>
<line x1="135.3" x2="142.6" y1="579.56" y2="579.56" stroke="#1f1f1f" stroke-width="2.85"/>
<text x="129.2" y="586.16" font-size="16" fill="#444444" text-anchor="end">Australia</text>
<line x1="135.3" x2="142.6" y1="590.31" y2="590.31" stroke="#1f1f1f" stroke-width="2.85"/>
<text x="129.2" y="596.91" font-size="16" fill="#444444" text-anchor="end">Thailand</text>
<line x1="135.3" x2="142.6" y1="601.05" y2="601.05" stroke="#1f1f1f" stroke-width="2.85"/>
<text x="129.2" y="607.65" font-size="16" fill="#444444" text-anchor="end">Germany</text>
<line x1="135.3" x2="142.6" y1="611.80" y2="611.80" stroke="#1f1f1f" stroke-width="2.85"/>
<text x="129.2" y="618.40" font-size="16" fill="#444444" text-anchor="end">Norway</text>
<line x1="135.3" x2="142.6" y1="622.55" y2="622.55" stroke="#1f1f1f" stroke-width="2.85"/>
<text x="129.2" y="629.15" font-size="16" fill="#444444" text-anchor="end">Kuwait</text>
<line x1="135.3" x2="142.6" y1="633.30" y2="633.30" stroke="#1f1f1f" stroke-width="2.85"/>
<text x="129.2" y="639.90" font-size="16" fill="#444444" text-anchor="end">Israel</text>
<line x1="135.3" x2="142.6" y1="644.04" y2="644.04" stroke="#1f1f1f" stroke-width="2.85"/>
<text x="129.2" y="650.64" font-size="16" fill="#444444" text-anchor="end">France</text>
<line x1="135.3" x2="142.6" y1="654.79" y2="654.79" stroke="#1f1f1f" stroke-width="2.85"/>
<text x="129.2" y="661.39" font-size="16" fill="#444444" text-anchor="end">US Republicans</text>
<line x1="135.3" x2="142.6" y1="665.54" y2="665.54" stroke="#1f1f1f" stroke-width="2.85"/>
<text x="129.2" y="672.14" font-size="16" fill="#444444" text-anchor="end">Algeria</text>
<line x1="135.3" x2="142.6" y1="676.29" y2="676.29" stroke="#1f1f1f" stroke-width="2.85"/>
<text x="129.2" y="682.89" font-size="16" fill="#444444" text-anchor="end">Saudi Arabia</text>
<line x1="135.3" x2="142.6" y1="687.04" y2="687.04" stroke="#1f1f1f" stroke-width="2.85"/>
<text x="129.2" y="693.64" font-size="16" fill="#444444" text-anchor="end">US Democrats</text>
<line x1="135.3" x2="142.6" y1="697.78" y2="697.78" stroke="#1f1f1f" stroke-width="2.85"/>
<text x="129.2" y="704.38" font-size="16" fill="#444444" text-anchor="end">Romania</text>
<line x1="135.3" x2="142.6" y1="708.53" y2="708.53" stroke="#1f1f1f" stroke-width="2.85"/>
<text x="129.2" y="715.13" font-size="16" fill="#444444" text-anchor="end">Pakistan</text>
<line x1="135.3" x2="142.6" y1="719.28" y2="719.28" stroke="#1f1f1f" stroke-width="2.85"/>
<text x="129.2" y="725.88" font-size="16" fill="#444444" text-anchor="end">India</text>
<line x1="135.3" x2="142.6" y1="730.03" y2="730.03" stroke="#1f1f1f" stroke-width="2.85"/>
<text x="129.2" y="736.63" font-size="16" fill="#444444" text-anchor="end">United Kingdom</text>
<line x1="135.3" x2="142.6" y1="740.77" y2="740.77" stroke="#1f1f1f" stroke-width="2.85"/>
<text x="129.2" y="747.37" font-size="16" fill="#444444" text-anchor="end">Poland</text>
<line x1="135.3" x2="142.6" y1="751.52" y2="751.52" stroke="#1f1f1f" stroke-width="2.85"/>
<text x="129.2" y="758.12" font-size="16" fill="#444444" text-anchor="end">Italy</text>
<line x1="135.3" x2="142.6" y1="762.27" y2="762.27" stroke="#1f1f1f" stroke-width="2.85"/>
<text x="129.2" y="768.87" font-size="16" fill="#444444" text-anchor="end">Spain</text>
<line x1="135.3" x2="142.6" y1="773.02" y2="773.02" stroke="#1f1f1f" stroke-width="2.85"/>
<text x="129.2" y="779.62" font-size="16" fill="#444444" text-anchor="end">Mexico</text>
<line x1="135.3" x2="142.6" y1="783.76" y2="783.76" stroke="#1f1f1f" stroke-width="2.85"/>
<text x="129.2" y="790.36" font-size="16" fill="#444444" text-anchor="end">Morocco</text>
<line x1="135.3" x2="142.6" y1="794.51" y2="794.51" stroke="#1f1f1f" stroke-width="2.85"/>
<text x="129.2" y="801.11" font-size="16" fill="#444444" text-anchor="end">Sweden</text>
<line x1="135.3" x2="142.6" y1="805.26" y2="805.26" stroke="#1f1f1f" stroke-width="2.85"/>
<text x="129.2" y="811.86" font-size="16" fill="#444444" text-anchor="end">Hungary</text>
<line x1="135.3" x2="142.6" y1="816.01" y2="816.01" stroke="#1f1f1f" stroke-width="2.85"/>
<text x="129.2" y="822.61" font-size="16" fill="#444444" text-anchor="end">Austria</text>
<line x1="135.3" x2="142.6" y1="826.75" y2="826.75" stroke="#1f1f1f" stroke-width="2.85"/>
<text x="129.2" y="833.35" font-size="16" fill="#444444" text-anchor="end">Jihadist</text>
<line x1="135.3" x2="142.6" y1="837.50" y2="837.50" stroke="#1f1f1f" stroke-width="2.85"/>
<text x="129.2" y="844.10" font-size="16" fill="#444444" text-anchor="end">Philippines</text>
<line x1="135.3" x2="142.6" y1="848.25" y2="848.25" stroke="#1f1f1f" stroke-width="2.85"/>
<text x="129.2" y="854.85" font-size="16" fill="#444444" text-anchor="end">Canada</text>
<line x1="135.3" x2="142.6" y1="859.00" y2="859.00" stroke="#1f1f1f" stroke-width="2.85"/>
<text x="129.2" y="865.60" font-size="16" fill="#444444" text-anchor="end">Brazil</text>
<line x1="135.3" x2="142.6" y1="869.75" y2="869.75" stroke="#1f1f1f" stroke-width="2.85"/>
<text x="129.2" y="876.35" font-size="16" fill="#444444" text-anchor="end">Greece</text>
<line x1="135.3" x2="142.6" y1="880.49" y2="880.49" stroke="#1f1f1f" stroke-width="2.85"/>
<text x="129.2" y="887.09" font-size="16" fill="#444444" text-anchor="end">Jordan</text>
<line x1="135.3" x2="142.6" y1="891.24" y2="891.24" stroke="#1f1f1f" stroke-width="2.85"/>
<text x="129.2" y="897.84" font-size="16" fill="#444444" text-anchor="end">Lebanon</text>
<line x1="135.3" x2="142.6" y1="901.99" y2="901.99" stroke="#1f1f1f" stroke-width="2.85"/>
<text x="129.2" y="908.59" font-size="16" fill="#444444" text-anchor="end">Colombia</text>
<line x1="135.3" x2="142.6" y1="912.74" y2="912.74" stroke="#1f1f1f" stroke-width="2.85"/>
<text x="129.2" y="919.34" font-size="16" fill="#444444" text-anchor="end">Czech</text>
<line x1="135.3" x2="142.6" y1="923.48" y2="923.48" stroke="#1f1f1f" stroke-width="2.85"/>
<text x="129.2" y="930.08" font-size="16" fill="#444444" text-anchor="end">Portugal</text>
<line x1="135.3" x2="142.6" y1="934.23" y2="934.23" stroke="#1f1f1f" stroke-width="2.85"/>
<text x="129.2" y="940.83" font-size="16" fill="#444444" text-anchor="end">Malaysia</text>
<line x1="135.3" x2="142.6" y1="944.98" y2="944.98" stroke="#1f1f1f" stroke-width="2.85"/>
<text x="129.2" y="951.58" font-size="16" fill="#444444" text-anchor="end">Turkey</text>
<line x1="135.3" x2="142.6" y1="955.73" y2="955.73" stroke="#1f1f1f" stroke-width="2.85"/>
<text x="129.2" y="962.33" font-size="16" fill="#444444" text-anchor="end">Argentina</text>
<line x1="135.3" x2="142.6" y1="966.47" y2="966.47" stroke="#1f1f1f" stroke-width="2.85"/>
<text x="129.2" y="973.07" font-size="16" fill="#444444" text-anchor="end">Nigeria</text>
<line x1="135.3" x2="142.6" y1="977.22" y2="977.22" stroke="#1f1f1f" stroke-width="2.85"/>
<text x="129.2" y="983.82" font-size="16" fill="#444444" text-anchor="end">Egypt</text>
<rect x="894.1" y="530" width="44.8" height="454" fill="#D0D0D0"/>
<text transform="translate(907.0 757.4) rotate(90)" font-size="23.47" fill="#1a1a1a" text-anchor="middle">Obsessive passion</text>
</g>
<g>
<rect x="142.6" y="998" width="750.9" height="454" fill="#E6E6E6"/>
<line x1="362.7" x2="362.7" y1="998" y2="1452" stroke="#fff" stroke-width="1.42"/>
<line x1="585.2" x2="585.2" y1="998" y2="1452" stroke="#fff" stroke-width="1.42"/>
<line x1="807.7" x2="807.7" y1="998" y2="1452" stroke="#fff" stroke-width="1.42"/>
<line x1="251.5" x2="251.5" y1="998" y2="1452" stroke="#fff" stroke-width="2.85"/>
<line x1="474.0" x2="474.0" y1="998" y2="1452" stroke="#fff" stroke-width="2.85"/>
<line x1="696.5" x2="696.5" y1="998" y2="1452" stroke="#fff" stroke-width="2.85"/>
<line x1="142.6" x2="893.5" y1="1004.79" y2="1004.79" stroke="#fff" stroke-width="2.85"/>
<line x1="142.6" x2="893.5" y1="1015.54" y2="1015.54" stroke="#fff" stroke-width="2.85"/>
<line x1="142.6" x2="893.5" y1="1026.28" y2="1026.28" stroke="#fff" stroke-width="2.85"/>
<line x1="142.6" x2="893.5" y1="1037.03" y2="1037.03" stroke="#fff" stroke-width="2.85"/>
<line x1="142.6" x2="893.5" y1="1047.78" y2="1047.78" stroke="#fff" stroke-width="2.85"/>
<line x1="142.6" x2="893.5" y1="1058.53" y2="1058.53" stroke="#fff" stroke-width="2.85"/>
<line x1="142.6" x2="893.5" y1="1069.27" y2="1069.27" stroke="#fff" stroke-width="2.85"/>
<line x1="142.6" x2="893.5" y1="1080.02" y2="1080.02" stroke="#fff" stroke-width="2.85"/>
<line x1="142.6" x2="893.5" y1="1090.77" y2="1090.77" stroke="#fff" stroke-width="2.85"/>
<line x1="142.6" x2="893.5" y1="1101.52" y2="1101.52" stroke="#fff" stroke-width="2.85"/>
<line x1="142.6" x2="893.5" y1="1112.26" y2="1112.26" stroke="#fff" stroke-width="2.85"/>
<line x1="142.6" x2="893.5" y1="1123.01" y2="1123.01" stroke="#fff" stroke-width="2.85"/>
<line x1="142.6" x2="893.5" y1="1133.76" y2="1133.76" stroke="#fff" stroke-width="2.85"/>
<line x1="142.6" x2="893.5" y1="1144.51" y2="1144.51" stroke="#fff" stroke-width="2.85"/>
<line x1="142.6" x2="893.5" y1="1155.26" y2="1155.26" stroke="#fff" stroke-width="2.85"/>
<line x1="142.6" x2="893.5" y1="1166.00" y2="1166.00" stroke="#fff" stroke-width="2.85"/>
<line x1="142.6" x2="893.5" y1="1176.75" y2="1176.75" stroke="#fff" stroke-width="2.85"/>
<line x1="142.6" x2="893.5" y1="1187.50" y2="1187.50" stroke="#fff" stroke-width="2.85"/>
<line x1="142.6" x2="893.5" y1="1198.25" y2="1198.25" stroke="#fff" stroke-width="2.85"/>
<line x1="142.6" x2="893.5" y1="1208.99" y2="1208.99" stroke="#fff" stroke-width="2.85"/>
<line x1="142.6" x2="893.5" y1="1219.74" y2="1219.74" stroke="#fff" stroke-width="2.85"/>
<line x1="142.6" x2="893.5" y1="1230.49" y2="1230.49" stroke="#fff" stroke-width="2.85"/>
<line x1="142.6" x2="893.5" y1="1241.24" y2="1241.24" stroke="#fff" stroke-width="2.85"/>
<line x1="142.6" x2="893.5" y1="1251.98" y2="1251.98" stroke="#fff" stroke-width="2.85"/>
<line x1="142.6" x2="893.5" y1="1262.73" y2="1262.73" stroke="#fff" stroke-width="2.85"/>
<line x1="142.6" x2="893.5" y1="1273.48" y2="1273.48" stroke="#fff" stroke-width="2.85"/>
<line x1="142.6" x2="893.5" y1="1284.23" y2="1284.23" stroke="#fff" stroke-width="2.85"/>
<line x1="142.6" x2="893.5" y1="1294.97" y2="1294.97" stroke="#fff" stroke-width="2.85"/>
<line x1="142.6" x2="893.5" y1="1305.72" y2="1305.72" stroke="#fff" stroke-width="2.85"/>
<line x1="142.6" x2="893.5" y1="1316.47" y2="1316.47" stroke="#fff" stroke-width="2.85"/>
<line x1="142.6" x2="893.5" y1="1327.22" y2="1327.22" stroke="#fff" stroke-width="2.85"/>
<line x1="142.6" x2="893.5" y1="1337.97" y2="1337.97" stroke="#fff" stroke-width="2.85"/>
<line x1="142.6" x2="893.5" y1="1348.71" y2="1348.71" stroke="#fff" stroke-width="2.85"/>
<line x1="142.6" x2="893.5" y1="1359.46" y2="1359.46" stroke="#fff" stroke-width="2.85"/>
<line x1="142.6" x2="893.5" y1="1370.21" y2="1370.21" stroke="#fff" stroke-width="2.85"/>
<line x1="142.6" x2="893.5" y1="1380.96" y2="1380.96" stroke="#fff" stroke-width="2.85"/>
<line x1="142.6" x2="893.5" y1="1391.70" y2="1391.70" stroke="#fff" stroke-width="2.85"/>
<line x1="142.6" x2="893.5" y1="1402.45" y2="1402.45" stroke="#fff" stroke-width="2.85"/>
<line x1="142.6" x2="893.5" y1="1413.20" y2="1413.20" stroke="#fff" stroke-width="2.85"/>
<line x1="142.6" x2="893.5" y1="1423.95" y2="1423.95" stroke="#fff" stroke-width="2.85"/>
<line x1="142.6" x2="893.5" y1="1434.69" y2="1434.69" stroke="#fff" stroke-width="2.85"/>
<line x1="142.6" x2="893.5" y1="1445.44" y2="1445.44" stroke="#fff" stroke-width="2.85"/>
<clipPath id="cp2"><rect x="142.6" y="998" width="750.9" height="454"/></clipPath>
<g clip-path="url(#cp2)">
<line x1="505.3" x2="578.7" y1="1004.79" y2="1004.79" stroke="#C3C3C3" stroke-width="2.85"/>
<line x1="584" x2="743.7" y1="1015.54" y2="1015.54" stroke="#C3C3C3" stroke-width="2.85"/>
<line x1="405.7" x2="459.7" y1="1026.28" y2="1026.28" stroke="#C3C3C3" stroke-width="2.85"/>
<line x1="524.6" x2="651" y1="1037.03" y2="1037.03" stroke="#C3C3C3" stroke-width="2.85"/>
<line x1="579" x2="746.7" y1="1047.78" y2="1047.78" stroke="#C3C3C3" stroke-width="2.85"/>
<line x1="593.3" x2="728.7" y1="1058.53" y2="1058.53" stroke="#C3C3C3" stroke-width="2.85"/>
<line x1="488.3" x2="585.3" y1="1069.27" y2="1069.27" stroke="#C3C3C3" stroke-width="2.85"/>
<line x1="535.6" x2="688" y1="1080.02" y2="1080.02" stroke="#C3C3C3" stroke-width="2.85"/>
<line x1="354.7" x2="372.3" y1="1090.77" y2="1090.77" stroke="#C3C3C3" stroke-width="2.85"/>
<line x1="397.7" x2="431.7" y1="1101.52" y2="1101.52" stroke="#C3C3C3" stroke-width="2.85"/>
<line x1="441.7" x2="512.7" y1="1112.26" y2="1112.26" stroke="#C3C3C3" stroke-width="2.85"/>
<line x1="367.7" x2="390.3" y1="1123.01" y2="1123.01" stroke="#C3C3C3" stroke-width="2.85"/>
<line x1="357.3" x2="391.3" y1="1133.76" y2="1133.76" stroke="#C3C3C3" stroke-width="2.85"/>
<line x1="393.7" x2="432.7" y1="1144.51" y2="1144.51" stroke="#C3C3C3" stroke-width="2.85"/>
<line x1="350.3" x2="370" y1="1155.26" y2="1155.26" stroke="#C3C3C3" stroke-width="2.85"/>
<line x1="393.3" x2="430" y1="1166.00" y2="1166.00" stroke="#C3C3C3" stroke-width="2.85"/>
<line x1="428" x2="494.7" y1="1176.75" y2="1176.75" stroke="#C3C3C3" stroke-width="2.85"/>
<line x1="571.7" x2="720" y1="1187.50" y2="1187.50" stroke="#C3C3C3" stroke-width="2.85"/>
<line x1="333.7" x2="316.7" y1="1198.25" y2="1198.25" stroke="#C3C3C3" stroke-width="2.85"/>
<line x1="338.3" x2="348.3" y1="1208.99" y2="1208.99" stroke="#C3C3C3" stroke-width="2.85"/>
<line x1="393" x2="430.3" y1="1219.74" y2="1219.74" stroke="#C3C3C3" stroke-width="2.85"/>
<line x1="383.2" x2="405.2" y1="1230.49" y2="1230.49" stroke="#C3C3C3" stroke-width="2.85"/>
<line x1="369.7" x2="394.8" y1="1241.24" y2="1241.24" stroke="#C3C3C3" stroke-width="2.85"/>
<line x1="340.5" x2="335.3" y1="1251.98" y2="1251.98" stroke="#C3C3C3" stroke-width="2.85"/>
<line x1="397" x2="434.7" y1="1262.73" y2="1262.73" stroke="#C3C3C3" stroke-width="2.85"/>
<line x1="357.7" x2="377.3" y1="1273.48" y2="1273.48" stroke="#C3C3C3" stroke-width="2.85"/>
<line x1="489" x2="623" y1="1284.23" y2="1284.23" stroke="#C3C3C3" stroke-width="2.85"/>
<line x1="259.3" x2="228.7" y1="1294.97" y2="1294.97" stroke="#C3C3C3" stroke-width="2.85"/>
<line x1="461.8" x2="541.3" y1="1305.72" y2="1305.72" stroke="#C3C3C3" stroke-width="2.85"/>
<line x1="485.3" x2="573.3" y1="1316.47" y2="1316.47" stroke="#C3C3C3" stroke-width="2.85"/>
<line x1="344.7" x2="357" y1="1327.22" y2="1327.22" stroke="#C3C3C3" stroke-width="2.85"/>
<line x1="339" x2="348.7" y1="1337.97" y2="1337.97" stroke="#C3C3C3" stroke-width="2.85"/>
<line x1="362" x2="356" y1="1348.71" y2="1348.71" stroke="#C3C3C3" stroke-width="2.85"/>
<line x1="313.3" x2="265.7" y1="1359.46" y2="1359.46" stroke="#C3C3C3" stroke-width="2.85"/>
<line x1="387.7" x2="429" y1="1370.21" y2="1370.21" stroke="#C3C3C3" stroke-width="2.85"/>
<line x1="501.3" x2="572" y1="1380.96" y2="1380.96" stroke="#C3C3C3" stroke-width="2.85"/>
<line x1="378.3" x2="423.7" y1="1391.70" y2="1391.70" stroke="#C3C3C3" stroke-width="2.85"/>
<line x1="243" x2="176.3" y1="1402.45" y2="1402.45" stroke="#C3C3C3" stroke-width="2.85"/>
<line x1="329" x2="341.7" y1="1413.20" y2="1413.20" stroke="#C3C3C3" stroke-width="2.85"/>
<line x1="250.7" x2="227.7" y1="1423.95" y2="1423.95" stroke="#C3C3C3" stroke-width="2.85"/>
<line x1="389.7" x2="432.7" y1="1434.69" y2="1434.69" stroke="#C3C3C3" stroke-width="2.85"/>
<line x1="280.3" x2="198" y1="1445.44" y2="1445.44" stroke="#C3C3C3" stroke-width="2.85"/>
<circle cx="578.7" cy="1004.79" r="6.6" fill="none" stroke="#000" stroke-width="1.9"/>
<circle cx="743.7" cy="1015.54" r="6.6" fill="none" stroke="#000" stroke-width="1.9"/>
<circle cx="459.7" cy="1026.28" r="6.6" fill="none" stroke="#000" stroke-width="1.9"/>
<circle cx="651" cy="1037.03" r="6.6" fill="none" stroke="#000" stroke-width="1.9"/>
<circle cx="746.7" cy="1047.78" r="6.6" fill="none" stroke="#000" stroke-width="1.9"/>
<circle cx="728.7" cy="1058.53" r="6.6" fill="none" stroke="#000" stroke-width="1.9"/>
<circle cx="585.3" cy="1069.27" r="6.6" fill="none" stroke="#000" stroke-width="1.9"/>
<circle cx="688" cy="1080.02" r="6.6" fill="none" stroke="#000" stroke-width="1.9"/>
<circle cx="372.3" cy="1090.77" r="6.6" fill="none" stroke="#000" stroke-width="1.9"/>
<circle cx="431.7" cy="1101.52" r="6.6" fill="none" stroke="#000" stroke-width="1.9"/>
<circle cx="512.7" cy="1112.26" r="6.6" fill="none" stroke="#000" stroke-width="1.9"/>
<circle cx="390.3" cy="1123.01" r="6.6" fill="none" stroke="#000" stroke-width="1.9"/>
<circle cx="391.3" cy="1133.76" r="6.6" fill="none" stroke="#000" stroke-width="1.9"/>
<circle cx="432.7" cy="1144.51" r="6.6" fill="none" stroke="#000" stroke-width="1.9"/>
<circle cx="370" cy="1155.26" r="6.6" fill="none" stroke="#000" stroke-width="1.9"/>
<circle cx="430" cy="1166.00" r="6.6" fill="none" stroke="#000" stroke-width="1.9"/>
<circle cx="494.7" cy="1176.75" r="6.6" fill="none" stroke="#000" stroke-width="1.9"/>
<circle cx="720" cy="1187.50" r="6.6" fill="none" stroke="#000" stroke-width="1.9"/>
<circle cx="316.7" cy="1198.25" r="6.6" fill="none" stroke="#000" stroke-width="1.9"/>
<circle cx="348.3" cy="1208.99" r="6.6" fill="none" stroke="#000" stroke-width="1.9"/>
<circle cx="430.3" cy="1219.74" r="6.6" fill="none" stroke="#000" stroke-width="1.9"/>
<circle cx="405.2" cy="1230.49" r="6.6" fill="none" stroke="#000" stroke-width="1.9"/>
<circle cx="394.8" cy="1241.24" r="6.6" fill="none" stroke="#000" stroke-width="1.9"/>
<circle cx="335.3" cy="1251.98" r="6.6" fill="none" stroke="#000" stroke-width="1.9"/>
<circle cx="434.7" cy="1262.73" r="6.6" fill="none" stroke="#000" stroke-width="1.9"/>
<circle cx="377.3" cy="1273.48" r="6.6" fill="none" stroke="#000" stroke-width="1.9"/>
<circle cx="623" cy="1284.23" r="6.6" fill="none" stroke="#000" stroke-width="1.9"/>
<circle cx="228.7" cy="1294.97" r="6.6" fill="none" stroke="#000" stroke-width="1.9"/>
<circle cx="541.3" cy="1305.72" r="6.6" fill="none" stroke="#000" stroke-width="1.9"/>
<circle cx="573.3" cy="1316.47" r="6.6" fill="none" stroke="#000" stroke-width="1.9"/>
<circle cx="357" cy="1327.22" r="6.6" fill="none" stroke="#000" stroke-width="1.9"/>
<circle cx="348.7" cy="1337.97" r="6.6" fill="none" stroke="#000" stroke-width="1.9"/>
<circle cx="356" cy="1348.71" r="6.6" fill="none" stroke="#000" stroke-width="1.9"/>
<circle cx="265.7" cy="1359.46" r="6.6" fill="none" stroke="#000" stroke-width="1.9"/>
<circle cx="429" cy="1370.21" r="6.6" fill="none" stroke="#000" stroke-width="1.9"/>
<circle cx="572" cy="1380.96" r="6.6" fill="none" stroke="#000" stroke-width="1.9"/>
<circle cx="423.7" cy="1391.70" r="6.6" fill="none" stroke="#000" stroke-width="1.9"/>
<circle cx="176.3" cy="1402.45" r="6.6" fill="none" stroke="#000" stroke-width="1.9"/>
<circle cx="341.7" cy="1413.20" r="6.6" fill="none" stroke="#000" stroke-width="1.9"/>
<circle cx="227.7" cy="1423.95" r="6.6" fill="none" stroke="#000" stroke-width="1.9"/>
<circle cx="432.7" cy="1434.69" r="6.6" fill="none" stroke="#000" stroke-width="1.9"/>
<circle cx="198" cy="1445.44" r="6.6" fill="none" stroke="#000" stroke-width="1.9"/>
<circle cx="505.3" cy="1004.79" r="7.6" fill="#1FB4B8"/>
<circle cx="584" cy="1015.54" r="7.6" fill="#1FB4B8"/>
<circle cx="405.7" cy="1026.28" r="7.6" fill="#1FB4B8"/>
<circle cx="524.6" cy="1037.03" r="7.6" fill="#1FB4B8"/>
<circle cx="579" cy="1047.78" r="7.6" fill="#1FB4B8"/>
<circle cx="593.3" cy="1058.53" r="7.6" fill="#1FB4B8"/>
<circle cx="488.3" cy="1069.27" r="7.6" fill="#1FB4B8"/>
<circle cx="535.6" cy="1080.02" r="7.6" fill="#1FB4B8"/>
<circle cx="354.7" cy="1090.77" r="7.6" fill="#1FB4B8"/>
<circle cx="397.7" cy="1101.52" r="7.6" fill="#1FB4B8"/>
<circle cx="441.7" cy="1112.26" r="7.6" fill="#1FB4B8"/>
<circle cx="367.7" cy="1123.01" r="7.6" fill="#1FB4B8"/>
<circle cx="357.3" cy="1133.76" r="7.6" fill="#1FB4B8"/>
<circle cx="393.7" cy="1144.51" r="7.6" fill="#1FB4B8"/>
<circle cx="350.3" cy="1155.26" r="7.6" fill="#1FB4B8"/>
<circle cx="393.3" cy="1166.00" r="7.6" fill="#1FB4B8"/>
<circle cx="428" cy="1176.75" r="7.6" fill="#1FB4B8"/>
<circle cx="571.7" cy="1187.50" r="7.6" fill="#1FB4B8"/>
<circle cx="333.7" cy="1198.25" r="7.6" fill="#1FB4B8"/>
<circle cx="338.3" cy="1208.99" r="7.6" fill="#1FB4B8"/>
<circle cx="393" cy="1219.74" r="7.6" fill="#1FB4B8"/>
<circle cx="383.2" cy="1230.49" r="7.6" fill="#1FB4B8"/>
<circle cx="369.7" cy="1241.24" r="7.6" fill="#1FB4B8"/>
<circle cx="340.5" cy="1251.98" r="7.6" fill="#1FB4B8"/>
<circle cx="397" cy="1262.73" r="7.6" fill="#1FB4B8"/>
<circle cx="357.7" cy="1273.48" r="7.6" fill="#1FB4B8"/>
<circle cx="489" cy="1284.23" r="7.6" fill="#1FB4B8"/>
<circle cx="259.3" cy="1294.97" r="7.6" fill="#F0605D"/>
<circle cx="461.8" cy="1305.72" r="7.6" fill="#1FB4B8"/>
<circle cx="485.3" cy="1316.47" r="7.6" fill="#1FB4B8"/>
<circle cx="344.7" cy="1327.22" r="7.6" fill="#1FB4B8"/>
<circle cx="339" cy="1337.97" r="7.6" fill="#1FB4B8"/>
<circle cx="362" cy="1348.71" r="7.6" fill="#1FB4B8"/>
<circle cx="313.3" cy="1359.46" r="7.6" fill="#1FB4B8"/>
<circle cx="387.7" cy="1370.21" r="7.6" fill="#1FB4B8"/>
<circle cx="501.3" cy="1380.96" r="7.6" fill="#1FB4B8"/>
<circle cx="378.3" cy="1391.70" r="7.6" fill="#1FB4B8"/>
<circle cx="243" cy="1402.45" r="7.6" fill="#1FB4B8"/>
<circle cx="329" cy="1413.20" r="7.6" fill="#1FB4B8"/>
<circle cx="250.7" cy="1423.95" r="7.6" fill="#1FB4B8"/>
<circle cx="389.7" cy="1434.69" r="7.6" fill="#1FB4B8"/>
<circle cx="280.3" cy="1445.44" r="7.6" fill="#1FB4B8"/>
<line x1="251.5" x2="251.5" y1="1452" y2="998" stroke="#000" stroke-width="2.85" stroke-dasharray="11.37 11.37" stroke-dashoffset="-0.11"/>
</g>
<line x1="135.3" x2="142.6" y1="1004.79" y2="1004.79" stroke="#1f1f1f" stroke-width="2.85"/>
<text x="129.2" y="1011.39" font-size="16" fill="#444444" text-anchor="end">Denmark</text>
<line x1="135.3" x2="142.6" y1="1015.54" y2="1015.54" stroke="#1f1f1f" stroke-width="2.85"/>
<text x="129.2" y="1022.14" font-size="16" fill="#444444" text-anchor="end">Netherlands</text>
<line x1="135.3" x2="142.6" y1="1026.28" y2="1026.28" stroke="#1f1f1f" stroke-width="2.85"/>
<text x="129.2" y="1032.88" font-size="16" fill="#444444" text-anchor="end">Tunisia</text>
<line x1="135.3" x2="142.6" y1="1037.03" y2="1037.03" stroke="#1f1f1f" stroke-width="2.85"/>
<text x="129.2" y="1043.63" font-size="16" fill="#444444" text-anchor="end">Finland</text>
<line x1="135.3" x2="142.6" y1="1047.78" y2="1047.78" stroke="#1f1f1f" stroke-width="2.85"/>
<text x="129.2" y="1054.38" font-size="16" fill="#444444" text-anchor="end">Australia</text>
<line x1="135.3" x2="142.6" y1="1058.53" y2="1058.53" stroke="#1f1f1f" stroke-width="2.85"/>
<text x="129.2" y="1065.13" font-size="16" fill="#444444" text-anchor="end">Thailand</text>
<line x1="135.3" x2="142.6" y1="1069.27" y2="1069.27" stroke="#1f1f1f" stroke-width="2.85"/>
<text x="129.2" y="1075.87" font-size="16" fill="#444444" text-anchor="end">Germany</text>
<line x1="135.3" x2="142.6" y1="1080.02" y2="1080.02" stroke="#1f1f1f" stroke-width="2.85"/>
<text x="129.2" y="1086.62" font-size="16" fill="#444444" text-anchor="end">Norway</text>
<line x1="135.3" x2="142.6" y1="1090.77" y2="1090.77" stroke="#1f1f1f" stroke-width="2.85"/>
<text x="129.2" y="1097.37" font-size="16" fill="#444444" text-anchor="end">Kuwait</text>
<line x1="135.3" x2="142.6" y1="1101.52" y2="1101.52" stroke="#1f1f1f" stroke-width="2.85"/>
<text x="129.2" y="1108.12" font-size="16" fill="#444444" text-anchor="end">Israel</text>
<line x1="135.3" x2="142.6" y1="1112.26" y2="1112.26" stroke="#1f1f1f" stroke-width="2.85"/>
<text x="129.2" y="1118.86" font-size="16" fill="#444444" text-anchor="end">France</text>
<line x1="135.3" x2="142.6" y1="1123.01" y2="1123.01" stroke="#1f1f1f" stroke-width="2.85"/>
<text x="129.2" y="1129.61" font-size="16" fill="#444444" text-anchor="end">US Republicans</text>
<line x1="135.3" x2="142.6" y1="1133.76" y2="1133.76" stroke="#1f1f1f" stroke-width="2.85"/>
<text x="129.2" y="1140.36" font-size="16" fill="#444444" text-anchor="end">Algeria</text>
<line x1="135.3" x2="142.6" y1="1144.51" y2="1144.51" stroke="#1f1f1f" stroke-width="2.85"/>
<text x="129.2" y="1151.11" font-size="16" fill="#444444" text-anchor="end">Saudi Arabia</text>
<line x1="135.3" x2="142.6" y1="1155.26" y2="1155.26" stroke="#1f1f1f" stroke-width="2.85"/>
<text x="129.2" y="1161.86" font-size="16" fill="#444444" text-anchor="end">US Democrats</text>
<line x1="135.3" x2="142.6" y1="1166.00" y2="1166.00" stroke="#1f1f1f" stroke-width="2.85"/>
<text x="129.2" y="1172.60" font-size="16" fill="#444444" text-anchor="end">Romania</text>
<line x1="135.3" x2="142.6" y1="1176.75" y2="1176.75" stroke="#1f1f1f" stroke-width="2.85"/>
<text x="129.2" y="1183.35" font-size="16" fill="#444444" text-anchor="end">Pakistan</text>
<line x1="135.3" x2="142.6" y1="1187.50" y2="1187.50" stroke="#1f1f1f" stroke-width="2.85"/>
<text x="129.2" y="1194.10" font-size="16" fill="#444444" text-anchor="end">India</text>
<line x1="135.3" x2="142.6" y1="1198.25" y2="1198.25" stroke="#1f1f1f" stroke-width="2.85"/>
<text x="129.2" y="1204.85" font-size="16" fill="#444444" text-anchor="end">United Kingdom</text>
<line x1="135.3" x2="142.6" y1="1208.99" y2="1208.99" stroke="#1f1f1f" stroke-width="2.85"/>
<text x="129.2" y="1215.59" font-size="16" fill="#444444" text-anchor="end">Poland</text>
<line x1="135.3" x2="142.6" y1="1219.74" y2="1219.74" stroke="#1f1f1f" stroke-width="2.85"/>
<text x="129.2" y="1226.34" font-size="16" fill="#444444" text-anchor="end">Italy</text>
<line x1="135.3" x2="142.6" y1="1230.49" y2="1230.49" stroke="#1f1f1f" stroke-width="2.85"/>
<text x="129.2" y="1237.09" font-size="16" fill="#444444" text-anchor="end">Spain</text>
<line x1="135.3" x2="142.6" y1="1241.24" y2="1241.24" stroke="#1f1f1f" stroke-width="2.85"/>
<text x="129.2" y="1247.84" font-size="16" fill="#444444" text-anchor="end">Mexico</text>
<line x1="135.3" x2="142.6" y1="1251.98" y2="1251.98" stroke="#1f1f1f" stroke-width="2.85"/>
<text x="129.2" y="1258.58" font-size="16" fill="#444444" text-anchor="end">Morocco</text>
<line x1="135.3" x2="142.6" y1="1262.73" y2="1262.73" stroke="#1f1f1f" stroke-width="2.85"/>
<text x="129.2" y="1269.33" font-size="16" fill="#444444" text-anchor="end">Sweden</text>
<line x1="135.3" x2="142.6" y1="1273.48" y2="1273.48" stroke="#1f1f1f" stroke-width="2.85"/>
<text x="129.2" y="1280.08" font-size="16" fill="#444444" text-anchor="end">Hungary</text>
<line x1="135.3" x2="142.6" y1="1284.23" y2="1284.23" stroke="#1f1f1f" stroke-width="2.85"/>
<text x="129.2" y="1290.83" font-size="16" fill="#444444" text-anchor="end">Austria</text>
<line x1="135.3" x2="142.6" y1="1294.97" y2="1294.97" stroke="#1f1f1f" stroke-width="2.85"/>
<text x="129.2" y="1301.57" font-size="16" fill="#444444" text-anchor="end">Jihadist</text>
<line x1="135.3" x2="142.6" y1="1305.72" y2="1305.72" stroke="#1f1f1f" stroke-width="2.85"/>
<text x="129.2" y="1312.32" font-size="16" fill="#444444" text-anchor="end">Philippines</text>
<line x1="135.3" x2="142.6" y1="1316.47" y2="1316.47" stroke="#1f1f1f" stroke-width="2.85"/>
<text x="129.2" y="1323.07" font-size="16" fill="#444444" text-anchor="end">Canada</text>
<line x1="135.3" x2="142.6" y1="1327.22" y2="1327.22" stroke="#1f1f1f" stroke-width="2.85"/>
<text x="129.2" y="1333.82" font-size="16" fill="#444444" text-anchor="end">Brazil</text>
<line x1="135.3" x2="142.6" y1="1337.97" y2="1337.97" stroke="#1f1f1f" stroke-width="2.85"/>
<text x="129.2" y="1344.57" font-size="16" fill="#444444" text-anchor="end">Greece</text>
<line x1="135.3" x2="142.6" y1="1348.71" y2="1348.71" stroke="#1f1f1f" stroke-width="2.85"/>
<text x="129.2" y="1355.31" font-size="16" fill="#444444" text-anchor="end">Jordan</text>
<line x1="135.3" x2="142.6" y1="1359.46" y2="1359.46" stroke="#1f1f1f" stroke-width="2.85"/>
<text x="129.2" y="1366.06" font-size="16" fill="#444444" text-anchor="end">Lebanon</text>
<line x1="135.3" x2="142.6" y1="1370.21" y2="1370.21" stroke="#1f1f1f" stroke-width="2.85"/>
<text x="129.2" y="1376.81" font-size="16" fill="#444444" text-anchor="end">Colombia</text>
<line x1="135.3" x2="142.6" y1="1380.96" y2="1380.96" stroke="#1f1f1f" stroke-width="2.85"/>
<text x="129.2" y="1387.56" font-size="16" fill="#444444" text-anchor="end">Czech</text>
<line x1="135.3" x2="142.6" y1="1391.70" y2="1391.70" stroke="#1f1f1f" stroke-width="2.85"/>
<text x="129.2" y="1398.30" font-size="16" fill="#444444" text-anchor="end">Portugal</text>
<line x1="135.3" x2="142.6" y1="1402.45" y2="1402.45" stroke="#1f1f1f" stroke-width="2.85"/>
<text x="129.2" y="1409.05" font-size="16" fill="#444444" text-anchor="end">Malaysia</text>
<line x1="135.3" x2="142.6" y1="1413.20" y2="1413.20" stroke="#1f1f1f" stroke-width="2.85"/>
<text x="129.2" y="1419.80" font-size="16" fill="#444444" text-anchor="end">Turkey</text>
<line x1="135.3" x2="142.6" y1="1423.95" y2="1423.95" stroke="#1f1f1f" stroke-width="2.85"/>
<text x="129.2" y="1430.55" font-size="16" fill="#444444" text-anchor="end">Argentina</text>
<line x1="135.3" x2="142.6" y1="1434.69" y2="1434.69" stroke="#1f1f1f" stroke-width="2.85"/>
<text x="129.2" y="1441.29" font-size="16" fill="#444444" text-anchor="end">Nigeria</text>
<line x1="135.3" x2="142.6" y1="1445.44" y2="1445.44" stroke="#1f1f1f" stroke-width="2.85"/>
<text x="129.2" y="1452.04" font-size="16" fill="#444444" text-anchor="end">Egypt</text>
<rect x="894.1" y="998" width="44.8" height="454" fill="#D0D0D0"/>
<text transform="translate(907.0 1225.6) rotate(90)" font-size="23.47" fill="#1a1a1a" text-anchor="middle">Perceived discrimination</text>
</g>
<line x1="251.5" x2="251.5" y1="1452.0" y2="1459.3" stroke="#1f1f1f" stroke-width="2.85"/>
<text x="251.0" y="1482.1" font-size="23.47" fill="#444444" text-anchor="middle">0.0</text>
<line x1="474.0" x2="474.0" y1="1452.0" y2="1459.3" stroke="#1f1f1f" stroke-width="2.85"/>
<text x="473.5" y="1482.1" font-size="23.47" fill="#444444" text-anchor="middle">0.4</text>
<line x1="696.5" x2="696.5" y1="1452.0" y2="1459.3" stroke="#1f1f1f" stroke-width="2.85"/>
<text x="696.0" y="1482.1" font-size="23.47" fill="#444444" text-anchor="middle">0.8</text>
<text x="517.9" y="1516.1" font-size="29.33" fill="#000" text-anchor="middle">Slope</text>
<rect x="983" y="711.2" width="46" height="91.8" fill="#E6E6E6"/>
<circle cx="1005.7" cy="733.9" r="7.6" fill="#F0605D"/>
<circle cx="1005.7" cy="779.9" r="7.6" fill="#1FB4B8"/>
<text x="1043.0" y="743" font-size="23.47" fill="#000">Jihadist</text>
<text x="1043.0" y="789" font-size="23.47" fill="#000">Other</text>
</svg></body></html>
